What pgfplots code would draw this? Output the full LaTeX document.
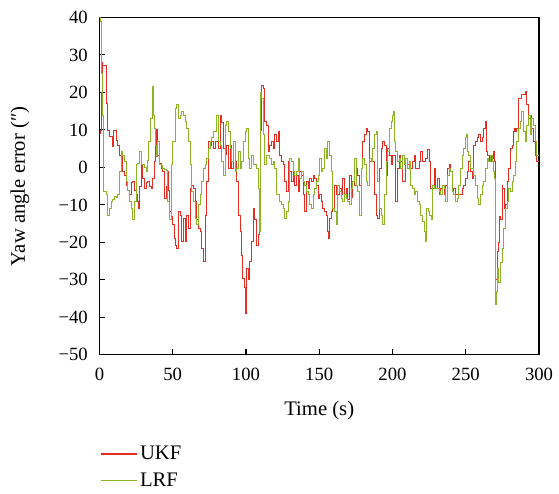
\documentclass[border=0pt]{standalone}
\usepackage{fontspec}
\setmainfont{Liberation Serif}
\usepackage{pgfplots}
\pgfplotsset{compat=1.18}
\usetikzlibrary{calc}

\definecolor{ukfred}{RGB}{230,45,35}
\definecolor{lrfgreen}{RGB}{140,180,35}

\pgfplotsset{
    flatlegend/.style={legend image code/.code={\draw[##1, sharp plot, line width=1.2pt] (0pt,0pt) -- (27pt,0pt);}},
}

\begin{document}
\begin{tikzpicture}
\begin{axis}[
    scale only axis,
    width=329.6pt, height=253pt,
    xmin=0, xmax=300, ymin=-50, ymax=40,
    xtick={0,50,...,300},
    ytick={-50,-40,...,40},
    yticklabels={−50,−40,−30,−20,−10,0,10,20,30,40},
    xtick pos=bottom, ytick pos=left,
    tick align=inside,
    major tick length=4.5pt,
    axis line style={line width=0.8pt},
    tick style={line width=0.8pt, black},
    tick label style={font=\fontsize{14}{16}\selectfont},
    xticklabel style={anchor=center, yshift=-15pt, inner sep=0pt},
    yticklabel style={anchor=east, xshift=-8.6pt, inner sep=0pt},
    /pgf/number format/assume math mode=true,
    xlabel={Time (s)},
    ylabel={Yaw angle error (″)},
    label style={font=\fontsize{15.5}{18}\selectfont},
    xlabel style={at={(axis description cs:0.5,0)}, anchor=center, yshift=-42pt},
    ylabel style={at={(axis description cs:0,0.5)}, anchor=center, rotate=0, yshift=59.6pt},
    legend style={at={(axis description cs:0,0)}, anchor=north west,
        yshift=-66.5pt, draw=none, fill=none, inner sep=0pt,
        font=\fontsize{15.5}{18}\selectfont, row sep=4pt},
    legend cell align=left,
    every axis plot/.append style={line width=0.6pt, const plot},
]
\addplot[ukfred, flatlegend] coordinates {
(0,9)(0.5,10)(1.2,20)(1.8,28)(2.3,27.3)(4,27.3)(4.5,17)(5.7,10)(7,8.2)(9,5.5)(9.5,10)(10.5,10)(11.4,7.3)(12.5,6)(13.6,3.3)(14.8,3.5)(15.9,-1.1)(17,-2)(18.2,-4.7)(19.3,-6)(20.4,-7.3)(21.5,-4)(22.7,-3.8)(23.8,-6)(25,-7.3)(26,-9)(26.8,-10.9)(27.5,-5)(28.4,0.7)(29.5,-3)(30.6,-5.6)(31.8,-4)(32.9,-3.8)(34,-5)(35.2,-5.6)(36.4,-3)(37.5,1.5)(38.1,6)(38.6,10.2)(39.2,8)(39.7,3.3)(40.9,1)(42,-0.2)(43,-1.1)(44.3,-8.2)(45.4,-5)(46.5,-1)(47.1,-6)(47.7,-11.8)(48.8,-13)(50,-15.3)(51,-18.9)(51.7,-20.7)(52.8,-21.6)(53.9,-11.8)(55,-12.7)(56.2,-19.8)(57.3,-13.5)(58.5,-19.8)(59.6,-12.7)(60.8,-16.2)(61.9,-5.6)(63,-4.7)(64.2,-5.6)(65.3,-9)(66.4,-14)(67.6,-16.2)(68.7,-17)(69.8,-21.6)(71,-25)(72.1,-12.7)(73.2,-3.8)(74.4,7)(75.5,6)(76.6,7)(77.8,5.2)(78.9,7)(80,7)(81.2,5.2)(82.3,14)(83.4,12)(84.6,5.2)(85.7,3.4)(86.9,6)(88,-0.2)(89.1,6)(90.3,-0.2)(91.4,7)(92.5,1.5)(93.7,-3.8)(94.8,-12.7)(95.9,-17)(97.1,-23.4)(97.8,-29.6)(98.9,-32)(99.8,-39)(100.5,-27)(101.5,-30)(102.6,-25)(103.7,-19.8)(104.9,-10.9)(106,-14)(107.1,-20.7)(108.3,-18)(109.4,-16.2)(110,10)(110.5,22)(111.7,21.1)(112.8,12.2)(113.9,11.3)(115,4.3)(116.2,6)(117.4,7)(118.5,5.2)(119.6,8.7)(120.8,7)(121.9,9.6)(123,3.3)(124.2,1.5)(125.3,0.7)(126.4,-3.8)(127.6,-6.4)(128.7,1.5)(129.8,-1.1)(131,-3.8)(132.1,-1.1)(133.2,-4.7)(134.4,-2)(135.5,-6.4)(136.6,-1.1)(137.8,-2)(138.9,-7.3)(140,-11.8)(141.2,-3.8)(142.3,-5.6)(143.4,-2.9)(144.6,-3.8)(145.7,-2)(146.9,-2.9)(148,-4.7)(149.1,-8.2)(150.1,-7.3)(151.3,-9)(152.4,-10.9)(153.5,-11.8)(154.7,-12.7)(155.8,-17)(156.5,-18.9)(156.9,-13.5)(158.1,-11.8)(159.2,-10.9)(160.3,-4.7)(161.5,-7.3)(162.6,-7.3)(163.7,-5.6)(164.9,-7.3)(166,-2.9)(167.2,-7.3)(168.3,-5.6)(169.4,-8.6)(170.6,-2)(171.7,-8)(172.8,-3.8)(174,-4.7)(175.1,-0.2)(176.2,-2)(177.4,-4.7)(178.5,-0.2)(179.6,7)(180.8,8.7)(181.9,10.5)(183,9.6)(184.2,1.5)(185.3,2.5)(186.5,1.5)(187.6,-7.3)(188.7,-12.7)(189.9,-13.5)(191,-0.2)(192.1,5.2)(193.3,7)(194.4,6)(195.5,-2)(196.7,5.2)(197.8,3.3)(199,0.7)(199.9,3.3)(201.1,3.3)(202.2,-9)(203.3,-0.2)(204.5,3.3)(205.6,1.5)(206.8,-3.8)(207.9,-3.8)(209,2.5)(210.2,0.7)(211.3,1.5)(212.4,-0.2)(213.6,1.5)(214.7,3.3)(215.8,-0.2)(217,-0.2)(218.1,1.5)(219.2,4.3)(220.4,1.5)(221.5,1.5)(222.6,2.5)(223.8,4.7)(224.9,1.5)(226,-5.6)(227.2,-5.6)(228.3,-0.2)(229.4,-5.6)(230.6,-2.9)(231.7,-7.3)(232.8,-5.6)(234,-4.7)(235.1,-7.3)(236.2,-4.7)(237.4,-0.2)(238.5,0.7)(239.6,-1.1)(240.8,-6.4)(241.9,-5.6)(243,-7.3)(244.2,-7.3)(245.3,-7.3)(246.4,-7.3)(247.6,-5.6)(248.7,-4.7)(249.9,-2.9)(250.9,-1.1)(252,1.5)(253.1,-1.1)(254.3,-2.9)(255.4,6)(256.5,7)(257.7,7.9)(258.8,8.7)(259.9,7)(261.1,7.9)(262.2,10.5)(263.4,12.2)(264,4.3)(265,3.3)(266.3,1.5)(267.2,3.3)(268.1,2.5)(269,4.3)(269.7,1.5)(270.2,-3.8)(270.5,-30)(271.3,-22.4)(272.4,-20)(273,-13)(273.9,-14)(274.7,-4.7)(275.3,-5.6)(276.2,-10.9)(277,-10)(278.1,-3.8)(279.2,-0.2)(280.4,5)(281.5,6)(282.2,9.6)(283.1,10.5)(283.8,9.6)(284.9,10.5)(286,18.5)(287.2,18.5)(288.3,19.4)(289.5,19.4)(290.6,20.3)(291.7,16.7)(292.9,13.1)(294,14)(295.1,10.5)(296.3,7)(297.4,3.3)(298.5,1.5)(300,0.5)
};
\addlegendentry{UKF}
\addplot[lrfgreen, flatlegend] coordinates {
(0,40)(0.6,38.9)(1.5,25)(1.8,14)(2.7,-6.5)(4.5,-7.3)(5.7,-12.7)(6.8,-11)(8,-9.1)(9,-8.5)(10.2,-7.8)(11.3,-8)(12.5,-7.3)(13.6,-1.1)(14.8,4.3)(15.9,3.3)(17,1.5)(18.2,-3.8)(19.3,-6)(20.4,-9)(21.5,-11)(22.7,-14)(23.8,-9)(25,0.7)(26.1,1)(27.2,4.3)(28.4,0.7)(29.5,0.7)(30.6,0)(31.8,-1.1)(32.7,2)(33.6,7)(34.5,13.1)(35.9,21.6)(36.8,14)(37.5,10.5)(38.1,6)(38.6,3)(39.7,7)(40.9,0.7)(42,0.5)(43,-0.2)(44.3,-0.5)(45.4,-0.9)(46.5,-9)(48,-14)(48.8,-4)(49.4,0.7)(50,7)(50.5,7)(51.7,15.8)(52.8,16.7)(53.9,13)(55,14)(55.8,15)(57.3,14)(58.5,12.2)(59.6,10.5)(60.8,7)(61.9,0.7)(62.6,-6.4)(64.2,-9)(65.3,-13.5)(66.4,-15.3)(67.6,-10)(68.7,-7.3)(69.8,-3.8)(71,-0.2)(72.1,0.7)(73.2,2.5)(74.4,5.2)(75.5,7)(76.6,7.9)(77.8,9.6)(78.9,9.6)(80,14)(81.2,7)(82.3,6)(83.4,1.5)(84.6,-2)(85.7,11.3)(86.9,12.2)(88,9.6)(89.1,5.2)(90.3,1.5)(91.4,7)(92.5,-1.1)(93.7,-0.2)(94.8,4.3)(95.9,-0.2)(97.1,1.5)(98.2,7)(99.3,9.6)(100.3,10.5)(101.5,2.5)(102.6,-0.2)(103.7,3.3)(104.9,0.7)(106,0.7)(107.1,-0.2)(108.3,-5.6)(109,-17)(109.9,20)(110.5,18.5)(111.7,8.7)(112.8,0.7)(113.9,3.3)(115,3.3)(116.2,2.5)(117.4,0.7)(118.5,1.5)(119.6,-0.2)(120.8,-7.3)(121.9,-7.3)(123,-9)(124.2,-10)(125.3,-10.9)(126.4,-13.5)(127.6,-11.8)(128.7,-9)(129.8,2.5)(131,1.5)(132.1,-1.1)(133.2,-2)(134.4,-1.1)(135.5,2.5)(136.6,-2.9)(137.8,-1.1)(138.9,-3.8)(140,-4.7)(141.2,-6.4)(142.3,-7.3)(143.4,-10)(144.6,-10.9)(145.7,-7.3)(146.9,-5.6)(148,-3.8)(149.1,-2)(150.1,2.5)(151.3,-1.1)(152.4,-0.2)(153.5,5.2)(154.7,2.5)(155.8,7)(156.9,3.3)(158.1,-1.1)(159.2,-10.9)(160.3,-11.8)(161.5,-15.3)(162.6,-4.7)(163.7,-6.4)(164.9,-8.2)(166,-9)(167.2,-7.3)(168.3,-8.2)(169.4,-9)(170.6,-10)(171.7,-5.6)(172.8,-3.8)(174,2.5)(175.1,-4.7)(176.2,-6.4)(177.4,-12.7)(178.5,-0.2)(179.6,2.5)(180.8,0.7)(181.9,-3.8)(183,-4.7)(184.2,2.5)(185.3,1.5)(186.5,5.2)(187.6,8.7)(188.7,9.6)(189.9,-3.8)(191,-10.9)(192.1,-12.7)(193.3,-15.3)(194.4,-7.3)(195.5,1.5)(196.7,4.3)(197.8,10.5)(199,12.2)(199.9,14)(200.6,15)(201.5,7)(202.2,4.3)(203.3,1.5)(204.5,2.5)(205.6,-0.2)(206.8,3.3)(207.9,0.7)(209,2.5)(210.2,-0.2)(211.3,1.5)(212.4,-4.7)(213.6,-5.6)(214.7,-7.3)(215.8,-6.4)(217,-9)(218.1,-10)(219.2,-12.7)(220.4,-14.4)(221.5,-17)(222.6,-19.8)(223.3,-10.9)(224.2,-11.8)(225.3,-12.7)(226.5,-14)(227.2,-4.7)(228.3,-5.6)(229.4,-5.6)(230.6,-5.6)(231.7,-6.4)(232.8,-7.3)(234,-4.7)(235.1,-5.6)(236.2,-9)(237.4,-2)(238.5,-0.2)(239.6,-1.1)(240.8,-6.4)(241.9,-7.3)(243,-9)(244.2,-8.2)(245.3,-4.7)(246.4,-0.2)(247.6,3.3)(248.7,5.2)(249.7,7.9)(250.4,8.7)(250.9,4.3)(252,3.3)(253.1,-0.2)(254.3,-0.2)(255.4,-2)(256.5,-4.7)(257.7,-8.2)(258.8,-10)(259.9,-7.3)(261.1,-4.7)(262.2,-3.8)(263.4,-0.2)(264.5,2.5)(265.6,1.5)(266.8,3.3)(268,1.5)(269,-1.1)(269.5,-3)(270,-36.5)(270.6,-33)(271.3,-27)(272.4,-30.7)(273.6,-25.3)(274.7,-21.6)(275.8,-16.2)(277,-10.9)(278.1,-9)(279.2,-5.6)(280.4,-6.4)(281.5,-3.8)(282.7,-2)(283.8,1.5)(284.9,7)(286,10.5)(287.2,12.2)(288.3,15)(289.5,9.6)(290.6,7)(291.7,11.3)(292.9,14)(294,8.7)(295.1,13.1)(296.3,11.3)(297.4,7)(298.5,3.3)(300,4)
};
\addlegendentry{LRF}
\end{axis}
\pgfresetboundingbox
\path[use as bounding box] ($(current axis.south west)+(-74.6pt,-104pt)$) rectangle ($(current axis.north east)+(15pt,13.1pt)$);
\end{tikzpicture}
\end{document}
